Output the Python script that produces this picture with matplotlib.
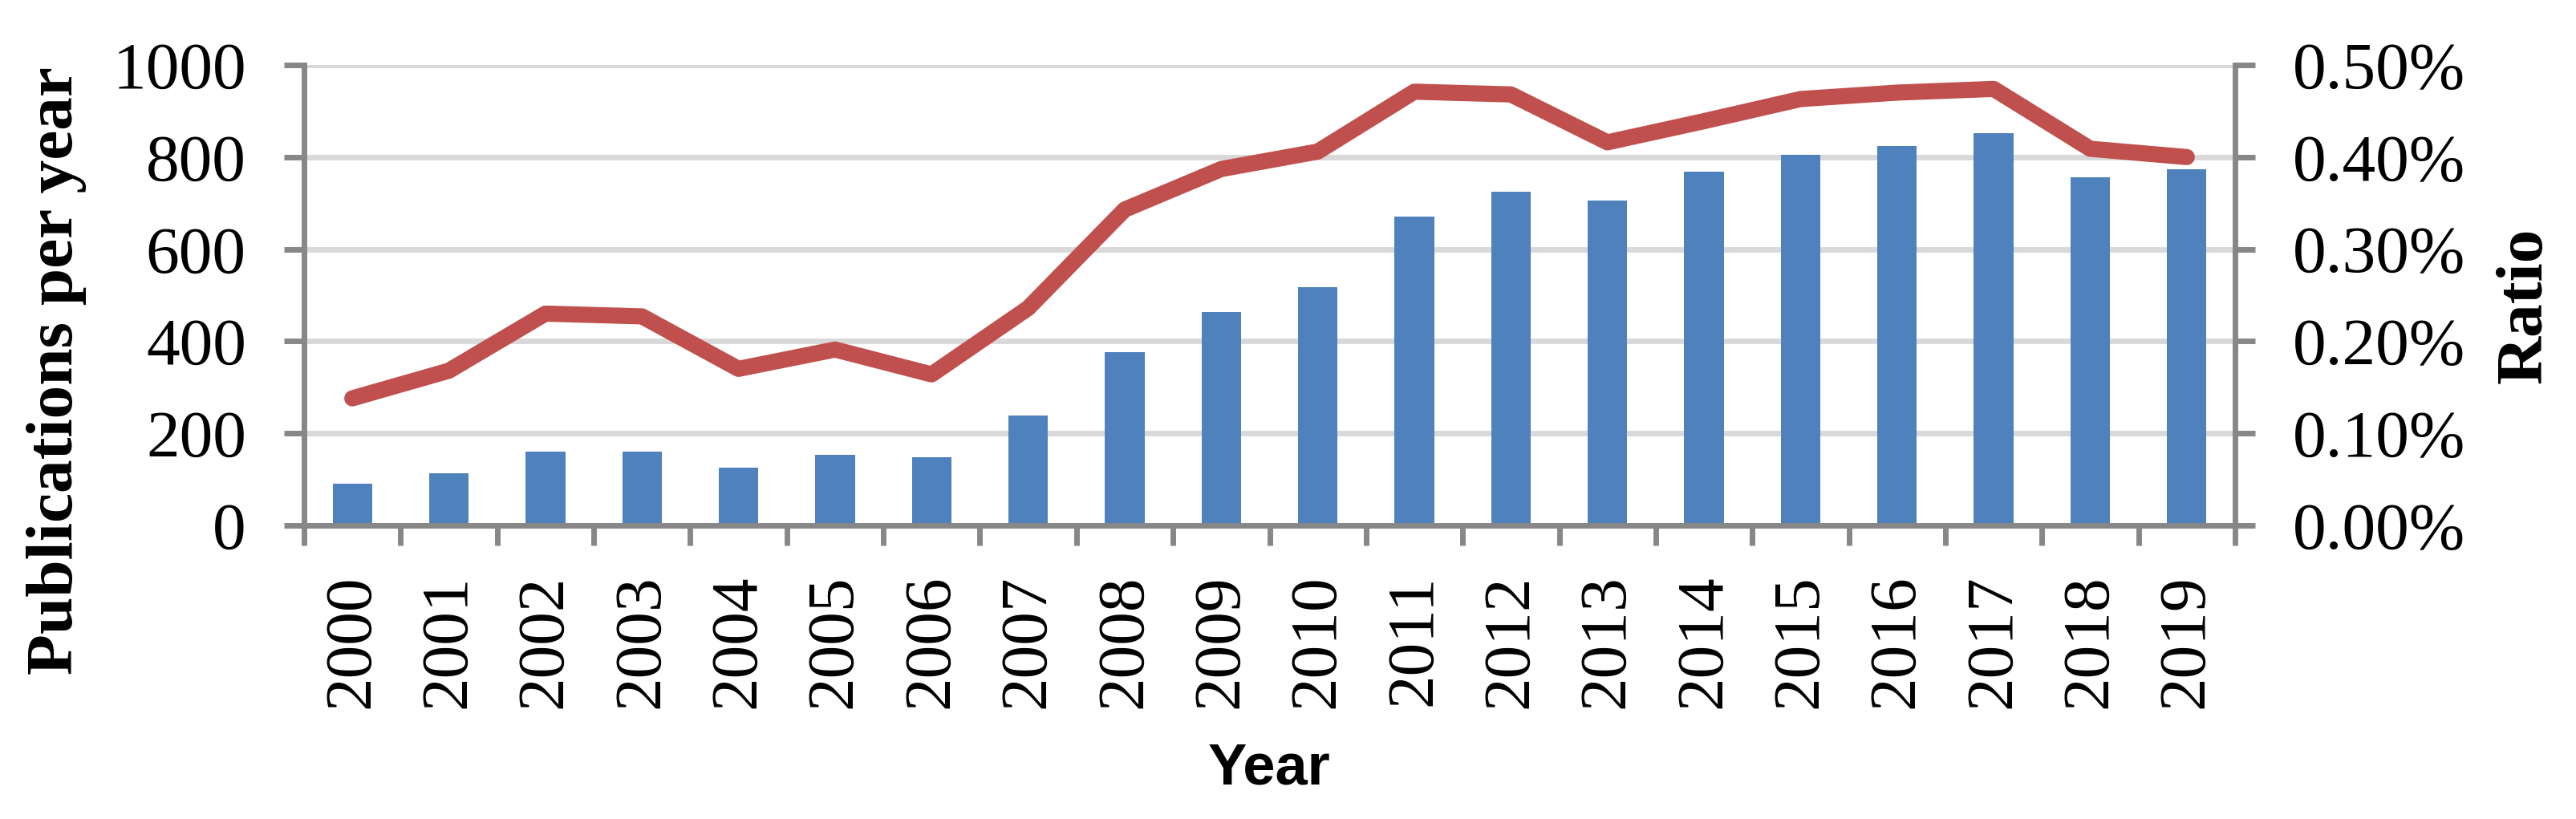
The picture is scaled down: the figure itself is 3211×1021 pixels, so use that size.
import numpy as np
import matplotlib
matplotlib.use('Agg')
import matplotlib.pyplot as plt
from matplotlib.ticker import FuncFormatter, FixedLocator

# data
years = [str(y) for y in range(2000, 2020)]
publications = [90, 113, 160, 160, 125, 153, 148, 238, 376, 463,
                517, 671, 725, 706, 769, 805, 824, 852, 756, 774]
ratio_pct = [0.138, 0.168, 0.230, 0.227, 0.170, 0.191, 0.164, 0.236, 0.343, 0.387,
             0.406, 0.471, 0.468, 0.416, 0.439, 0.463, 0.470, 0.474, 0.409, 0.400]

left_ticks = [0, 200, 400, 600, 800, 1000]
right_ticks = [0.0, 0.1, 0.2, 0.3, 0.4, 0.5]

bar_color = '#4F81BD'
line_color = '#C0504D'
axis_color = '#878787'
grid_color = '#D9D9D9'

plt.rcParams['font.family'] = ['Liberation Serif', 'DejaVu Serif']

fig = plt.figure(figsize=(32.11, 10.21), dpi=100)
ax = fig.add_axes([379 / 3211, 1 - 655 / 1021, (2786 - 379) / 3211, (655 - 81) / 1021])
ax2 = ax.twinx()

x = np.arange(len(years))
ax.bar(x, publications, width=0.41, color=bar_color, zorder=2)
ax2.plot(x, ratio_pct, color=line_color, lw=14.5,
         solid_capstyle='round', solid_joinstyle='round', zorder=3)

# left axis
ax.set_xlim(-0.5, len(years) - 0.5)
ax.set_ylim(0, 1000)
ax.set_yticks(left_ticks)
ax.yaxis.grid(True, color=grid_color, lw=5)
ax.set_axisbelow(True)
ax.tick_params(axis='y', direction='out', length=18, width=5, color=axis_color,
               labelsize=60, pad=34)

# categories: labels at centres, tick marks at boundaries
ax.set_xticks(x)
ax.set_xticklabels(years, rotation=90)
ax.xaxis.set_minor_locator(FixedLocator(np.arange(len(years) + 1) - 0.5))
ax.tick_params(axis='x', which='major', length=0, labelsize=60, pad=44)
ax.tick_params(axis='x', which='minor', direction='out', length=18, width=5,
               color=axis_color)

# right axis
ax2.set_ylim(0, 0.5)
ax2.set_yticks(right_ticks)
ax2.yaxis.set_major_formatter(FuncFormatter(lambda v, p: '{:.2f}%'.format(v)))
ax2.tick_params(axis='y', direction='out', length=18, width=5, color=axis_color,
                labelsize=60, pad=34)

for a in (ax, ax2):
    a.spines['top'].set_visible(False)
    for s in ('left', 'right', 'bottom'):
        a.spines[s].set_color(axis_color)
        a.spines[s].set_linewidth(5)
ax.spines['right'].set_visible(False)
ax2.spines['left'].set_visible(False)
ax2.spines['bottom'].set_visible(False)

# axis titles
fig.text(71 / 3211, 1 - 462 / 1021, 'Publications per year', rotation=90,
         ha='center', va='center', fontsize=60, fontweight='bold')
fig.text(3148 / 3211, 1 - 381 / 1021, 'Ratio', rotation=90,
         ha='center', va='center', fontsize=60, fontweight='bold')
fig.text((379 + 2786) / 2 / 3211, 1 - 977 / 1021, 'Year', ha='center', va='baseline',
         fontsize=52, fontweight='bold', family=['Liberation Sans', 'DejaVu Sans'])

fig.savefig('out.png', dpi=100, facecolor='white')
